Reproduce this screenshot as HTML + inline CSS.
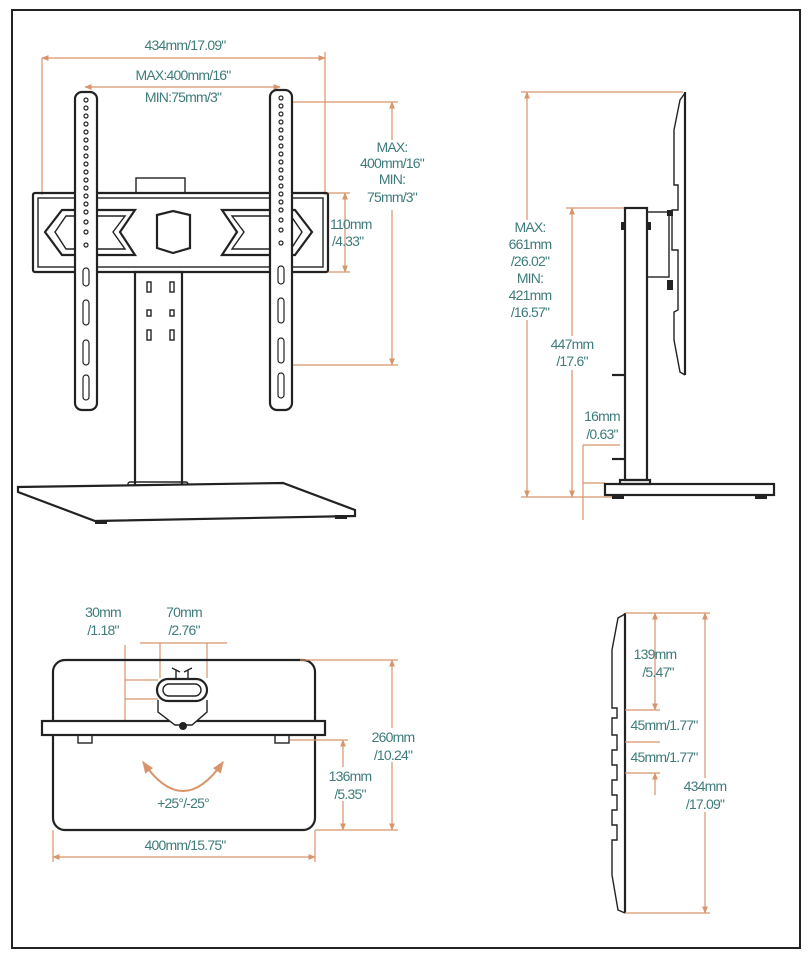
<!DOCTYPE html>
<html><head><meta charset="utf-8"><style>
html,body{margin:0;padding:0;background:#fff;}
svg{display:block;}
text{font-family:"Liberation Sans",sans-serif;font-size:14px;fill:#3f7b7b;text-anchor:middle;letter-spacing:-0.8px;}
.d{stroke:#d8946a;stroke-width:1.2;fill:none;}
.k{stroke:#222;stroke-width:2.2;fill:none;}
.k1{stroke:#222;stroke-width:1.4;fill:none;}
</style></head><body>
<svg width="812" height="960" viewBox="0 0 812 960" xmlns="http://www.w3.org/2000/svg">
<defs>
<marker id="a" viewBox="0 0 10 10" refX="9" refY="5" markerWidth="6" markerHeight="6" orient="auto-start-reverse"><path d="M0,1 L10,5 L0,9 z" fill="#d8946a"/></marker>
</defs>
<rect x="12" y="10" width="788" height="938" fill="none" stroke="#222" stroke-width="2"/>

<!-- FRONT VIEW -->
<line class="d" x1="42" y1="58" x2="325" y2="58" marker-start="url(#a)" marker-end="url(#a)"/>
<line class="d" x1="42" y1="58" x2="42" y2="195"/><line class="d" x1="325" y1="52" x2="325" y2="195"/>
<text x="185" y="50">434mm/17.09"</text>
<line class="d" x1="85" y1="87" x2="280" y2="87" marker-start="url(#a)" marker-end="url(#a)"/>
<text x="183" y="80">MAX:400mm/16"</text>
<text x="183" y="102">MIN:75mm/3"</text>
<line class="d" x1="392" y1="102" x2="392" y2="365" marker-start="url(#a)" marker-end="url(#a)"/>
<line class="d" x1="292" y1="102" x2="398" y2="102"/><line class="d" x1="292" y1="365" x2="398" y2="365"/>
<rect x="350" y="140" width="84" height="70" fill="#fff"/>
<text x="392" y="152">MAX:</text><text x="392" y="168">400mm/16"</text><text x="392" y="184">MIN:</text><text x="392" y="202">75mm/3"</text>
<line class="d" x1="345" y1="193" x2="345" y2="272" marker-start="url(#a)" marker-end="url(#a)"/>
<line class="d" x1="328" y1="193" x2="350" y2="193"/><line class="d" x1="328" y1="272" x2="350" y2="272"/>
<text x="330" y="229" style="text-anchor:start">110mm</text>
<text x="332" y="246" style="text-anchor:start">/4.33"</text>
<rect class="k1" x="136" y="178" width="49" height="15"/>
<rect class="k" x="135" y="272" width="47" height="214"/>
<rect class="k1" x="128" y="482" width="60" height="8" rx="2"/>
<g class="k1"><rect x="147" y="282" width="4" height="10"/><rect x="170" y="282" width="4" height="10"/><rect x="147" y="310" width="4" height="6"/><rect x="170" y="310" width="4" height="6"/><rect x="147" y="330" width="4" height="10"/><rect x="170" y="330" width="4" height="10"/></g>
<rect class="k" x="33" y="193" width="295" height="79" rx="2"/>
<rect class="k1" x="38" y="198" width="285" height="69"/>
<path class="k" d="M45,232 L62,210 L135,210 L120,232 L135,255 L62,255 Z"/>
<path class="k1" d="M55,232 L66,216 L125,216 L113,232 L125,249 L66,249 Z"/>
<path class="k" d="M312,232 L295,210 L222,210 L237,232 L222,255 L295,255 Z"/>
<path class="k1" d="M302,232 L291,216 L232,216 L244,232 L232,249 L291,249 Z"/>
<path class="k" d="M157,215 L173,211 L190,215 L190,248 L173,253 L157,248 Z"/>
<rect x="75" y="92" width="22" height="318" rx="7" fill="#fff" stroke="#222" stroke-width="2.2"/>
<rect x="270" y="90" width="22" height="320" rx="7" fill="#fff" stroke="#222" stroke-width="2.2"/>
<g fill="none" stroke="#222" stroke-width="1.2">
<circle cx="86" cy="100" r="2"/><circle cx="86" cy="108" r="2"/><circle cx="86" cy="116" r="2"/><circle cx="86" cy="124" r="2"/><circle cx="86" cy="132" r="2"/><circle cx="86" cy="140" r="2"/><circle cx="86" cy="148" r="2"/><circle cx="86" cy="156" r="2"/><circle cx="86" cy="164" r="2"/><circle cx="86" cy="172" r="2"/><circle cx="86" cy="180" r="2"/><circle cx="86" cy="188" r="2"/><circle cx="86" cy="196" r="2"/><circle cx="86" cy="204" r="2"/><circle cx="86" cy="212" r="2"/><circle cx="86" cy="222" r="2"/><circle cx="86" cy="232" r="2"/><circle cx="86" cy="245" r="2"/>
<circle cx="281" cy="98" r="2"/><circle cx="281" cy="106" r="2"/><circle cx="281" cy="114" r="2"/><circle cx="281" cy="122" r="2"/><circle cx="281" cy="130" r="2"/><circle cx="281" cy="138" r="2"/><circle cx="281" cy="146" r="2"/><circle cx="281" cy="154" r="2"/><circle cx="281" cy="162" r="2"/><circle cx="281" cy="170" r="2"/><circle cx="281" cy="178" r="2"/><circle cx="281" cy="186" r="2"/><circle cx="281" cy="194" r="2"/><circle cx="281" cy="202" r="2"/><circle cx="281" cy="210" r="2"/><circle cx="281" cy="220" r="2"/><circle cx="281" cy="230" r="2"/><circle cx="281" cy="243" r="2"/>
<rect x="83" y="268" width="6" height="18" rx="3"/><rect x="83" y="300" width="6" height="25" rx="3"/><rect x="83" y="340" width="6" height="25" rx="3"/><rect x="83" y="375" width="6" height="25" rx="3"/>
<rect x="278" y="266" width="6" height="18" rx="3"/><rect x="278" y="298" width="6" height="25" rx="3"/><rect x="278" y="338" width="6" height="25" rx="3"/><rect x="278" y="373" width="6" height="25" rx="3"/>
</g>
<polygon points="18,487 283,483 355,510 355,516 95,521 18,492" fill="#fff" stroke="#222" stroke-width="2.2"/>
<rect x="95" y="520" width="12" height="4" fill="#222"/><rect x="335" y="515" width="12" height="4" fill="#222"/>

<!-- SIDE VIEW -->
<line class="d" x1="527" y1="92" x2="527" y2="497" marker-start="url(#a)" marker-end="url(#a)"/>
<line class="d" x1="521" y1="92" x2="683" y2="92"/><line class="d" x1="521" y1="497" x2="612" y2="497"/>
<rect x="498" y="220" width="62" height="100" fill="#fff"/>
<text x="530" y="232">MAX:</text><text x="530" y="249">661mm</text><text x="530" y="266">/26.02"</text><text x="530" y="283">MIN:</text><text x="530" y="300">421mm</text><text x="530" y="317">/16.57"</text>
<line class="d" x1="572" y1="208" x2="572" y2="497" marker-start="url(#a)" marker-end="url(#a)"/>
<line class="d" x1="566" y1="208" x2="625" y2="208"/>
<rect x="545" y="336" width="55" height="34" fill="#fff"/>
<text x="572" y="349">447mm</text><text x="572" y="366">/17.6"</text>
<line class="d" x1="583" y1="445" x2="583" y2="520"/>
<line class="d" x1="583" y1="445" x2="620" y2="445"/><line class="d" x1="583" y1="483" x2="605" y2="483"/>
<text x="602" y="421">16mm</text><text x="602" y="439">/0.63"</text>
<path class="k" d="M685,92 L685,375"/>
<path class="k1" d="M685,93 L680,100 L674,130 L674,185 L678,185 L678,210 L672,210 L672,250 L678,250 L678,310 L674,312 L674,340 L680,372 L685,375"/>
<rect class="k" x="625" y="208" width="22" height="272"/>
<rect class="k1" x="647" y="212" width="22" height="65"/>
<g fill="#222"><rect x="667" y="210" width="6" height="6"/><rect x="667" y="280" width="6" height="10"/><rect x="621" y="222" width="4" height="8"/><rect x="647" y="222" width="4" height="8"/></g>
<line class="k" x1="612" y1="375" x2="625" y2="375"/><line class="k" x1="612" y1="459" x2="625" y2="459"/>
<rect class="k" x="620" y="480" width="30" height="4"/>
<rect class="k" x="605" y="484" width="169" height="11"/>
<rect x="612" y="495" width="12" height="4" fill="#222"/><rect x="755" y="495" width="12" height="4" fill="#222"/>

<!-- BOTTOM VIEW -->
<text x="103" y="617">30mm</text><text x="103" y="635">/1.18"</text>
<text x="184" y="617">70mm</text><text x="184" y="635">/2.76"</text>
<line class="d" x1="140" y1="643" x2="227" y2="643"/>
<line class="d" x1="160" y1="643" x2="160" y2="678"/><line class="d" x1="207" y1="643" x2="207" y2="678"/>
<line class="d" x1="125" y1="645" x2="125" y2="721"/>
<line class="d" x1="125" y1="680" x2="158" y2="680"/><line class="d" x1="125" y1="699" x2="158" y2="699"/>
<rect class="k" x="53" y="660" width="262" height="170" rx="12"/>
<rect x="42" y="721" width="283" height="14" fill="#fff" stroke="#222" stroke-width="2.2"/>
<rect class="k1" x="78" y="735" width="14" height="8"/><rect class="k1" x="275" y="735" width="14" height="8"/>
<path d="M158,700 L158,712 L175,725 L192,725 L207,712 L207,700" fill="#fff" stroke="#222" stroke-width="1.4"/>
<rect x="157" y="679" width="50" height="22" rx="11" fill="#fff" stroke="#222" stroke-width="2.2"/>
<rect x="163" y="684" width="38" height="12" rx="6" fill="none" stroke="#222" stroke-width="1.4"/>
<path class="k1" d="M176,679 L176,670 M188,679 L188,670 M172,668 L180,672 M184,672 L192,668"/>
<circle cx="183" cy="726" r="4" fill="#222"/>
<path d="M143,762 Q183,820 223,762" fill="none" stroke="#d8946a" stroke-width="2" marker-start="url(#a)" marker-end="url(#a)"/>
<text x="183" y="808">+25°/-25°</text>
<line class="d" x1="53" y1="857" x2="315" y2="857" marker-start="url(#a)" marker-end="url(#a)"/>
<line class="d" x1="53" y1="830" x2="53" y2="862"/><line class="d" x1="315" y1="830" x2="315" y2="862"/>
<text x="185" y="850">400mm/15.75"</text>
<line class="d" x1="392" y1="660" x2="392" y2="830" marker-start="url(#a)" marker-end="url(#a)"/>
<line class="d" x1="300" y1="660" x2="398" y2="660"/><line class="d" x1="315" y1="830" x2="398" y2="830"/>
<line class="d" x1="290" y1="740" x2="348" y2="740"/>
<line class="d" x1="343" y1="740" x2="343" y2="830" marker-start="url(#a)" marker-end="url(#a)"/>
<rect x="365" y="728" width="58" height="34" fill="#fff"/>
<text x="393" y="742">260mm</text><text x="393" y="760">/10.24"</text>
<rect x="322" y="767" width="55" height="34" fill="#fff"/>
<text x="350" y="781">136mm</text><text x="350" y="799">/5.35"</text>

<!-- PANEL SIDE -->
<line class="k" x1="625" y1="613" x2="625" y2="913"/>
<path class="k1" d="M625,614 L618,618 L612,650 L612,708 L617,708 L617,718 L612,718 L612,735 L617,735 L617,750 L612,750 L612,765 L617,765 L617,780 L612,780 L612,795 L617,795 L617,810 L612,810 L612,825 L617,825 L617,840 L612,840 L612,875 L618,910 L625,913"/>
<line class="d" x1="625" y1="613" x2="710" y2="613"/><line class="d" x1="625" y1="913" x2="710" y2="913"/>
<line class="d" x1="705" y1="613" x2="705" y2="913" marker-start="url(#a)" marker-end="url(#a)"/>
<line class="d" x1="655" y1="613" x2="655" y2="710" marker-start="url(#a)" marker-end="url(#a)"/>
<line class="d" x1="625" y1="710" x2="660" y2="710"/><line class="d" x1="625" y1="742" x2="660" y2="742"/><line class="d" x1="625" y1="773" x2="660" y2="773"/>
<line class="d" x1="655" y1="773" x2="655" y2="795" marker-start="url(#a)"/>
<text x="655" y="659">139mm</text><text x="658" y="677">/5.47"</text>
<text x="664" y="730">45mm/1.77"</text><text x="664" y="762">45mm/1.77"</text>
<rect x="678" y="778" width="55" height="34" fill="#fff"/>
<text x="705" y="791">434mm</text><text x="705" y="809">/17.09"</text>
</svg>
</body></html>
